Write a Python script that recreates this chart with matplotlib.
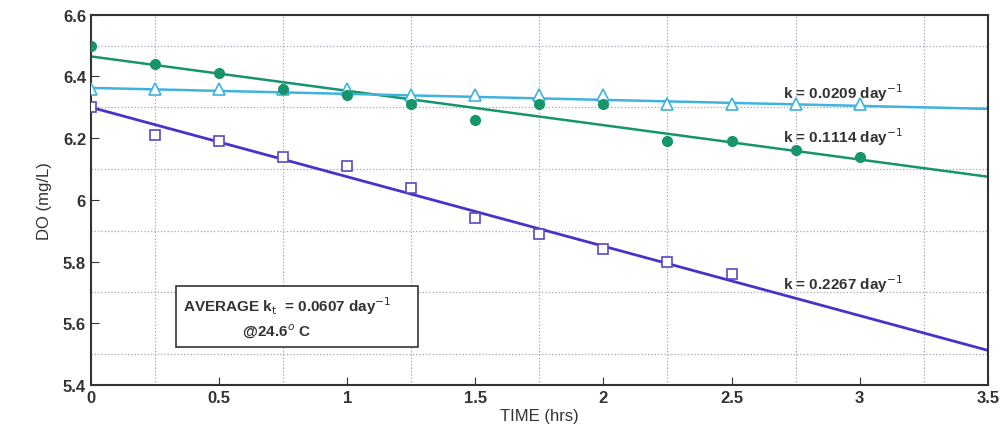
import matplotlib.pyplot as plt
import numpy as np

time_hrs = [0, 0.25, 0.5, 0.75, 1.0, 1.25, 1.5, 1.75, 2.0, 2.25, 2.5, 2.75, 3.0]
do_green = [6.50, 6.44, 6.41, 6.36, 6.34, 6.31, 6.26, 6.31, 6.31, 6.19, 6.19, 6.16, 6.14]
do_cyan = [6.36, 6.36, 6.36, 6.36, 6.36, 6.34, 6.34, 6.34, 6.34, 6.31, 6.31, 6.31, 6.31]
time_blue = [0, 0.25, 0.5, 0.75, 1.0, 1.25, 1.5, 1.75, 2.0, 2.25, 2.5]
do_blue = [6.30, 6.21, 6.19, 6.14, 6.11, 6.04, 5.94, 5.89, 5.84, 5.80, 5.76]

# fitted lines: value at t=0 and t=3.5
fit_green = [6.465, 6.075]
fit_cyan = [6.363, 6.295]
fit_blue = [6.300, 5.512]
fit_t = [0, 3.5]

labels = ['k = 0.0209 day$^{-1}$', 'k = 0.1114 day$^{-1}$', 'k = 0.2267 day$^{-1}$']
label_y = [6.35, 6.205, 5.73]

green = '#16946c'
cyan = '#3fb2de'
blue = '#4a32c8'

plt.rcParams['font.family'] = ['Liberation Sans', 'DejaVu Sans']
fig = plt.figure(figsize=(10.02, 4.39), dpi=100)
ax = fig.add_axes([0.0908, 0.121, 0.895, 0.843])

ax.plot(fit_t, fit_green, color=green, lw=1.8, zorder=2)
ax.plot(fit_t, fit_cyan, color=cyan, lw=1.8, zorder=2)
ax.plot(fit_t, fit_blue, color=blue, lw=2.0, zorder=2)

ax.plot(time_hrs, do_cyan, '^', ms=8, mfc='white', mec=cyan, mew=1.2, ls='none', zorder=3)
ax.plot(time_hrs, do_green, 'o', ms=7, color=green, ls='none', zorder=4)
ax.plot(time_blue, do_blue, 's', ms=7, mfc='white', mec='#5a48c0', mew=1.2, ls='none', zorder=3)

for lab, yy in zip(labels, label_y):
    ax.text(2.7, yy, lab, fontsize=11, fontweight='bold', color='#333333', va='center')

ax.text(0.36, 5.62, 'AVERAGE k$_\\mathrm{t}$  = 0.0607 day$^{-1}$     \n              @24.6$^o$ C',
        fontsize=11, fontweight='bold', color='#333333', va='center', linespacing=1.4,
        bbox=dict(boxstyle='square,pad=0.5', fc='white', ec='#333333', lw=1.2))

ax.set_xlim(0, 3.5)
ax.set_ylim(5.4, 6.6)
ax.set_xticks(np.arange(0, 3.51, 0.5))
ax.set_xticklabels(['0', '0.5', '1', '1.5', '2', '2.5', '3', '3.5'])
ax.set_yticks(np.arange(5.4, 6.61, 0.2))
ax.set_yticklabels(['5.4', '5.6', '5.8', '6', '6.2', '6.4', '6.6'])
ax.set_xticks(np.arange(0.25, 3.5, 0.5), minor=True)
ax.set_yticks(np.arange(5.5, 6.6, 0.2), minor=True)
ax.grid(which='minor', ls=':', color='#a0a8b8', lw=0.9)
ax.tick_params(which='major', direction='in', length=6, labelsize=12, colors='#333333')
ax.tick_params(which='minor', length=0)
for t in ax.get_xticklabels() + ax.get_yticklabels():
    t.set_fontweight('bold')
for s in ax.spines.values():
    s.set_linewidth(1.5)
    s.set_color('#333333')

ax.set_xlabel('TIME (hrs)', fontsize=12, color='#333333', labelpad=2)
ax.set_ylabel('DO (mg/L)', fontsize=12, color='#333333', labelpad=8)

fig.savefig('out.png', dpi=100)
